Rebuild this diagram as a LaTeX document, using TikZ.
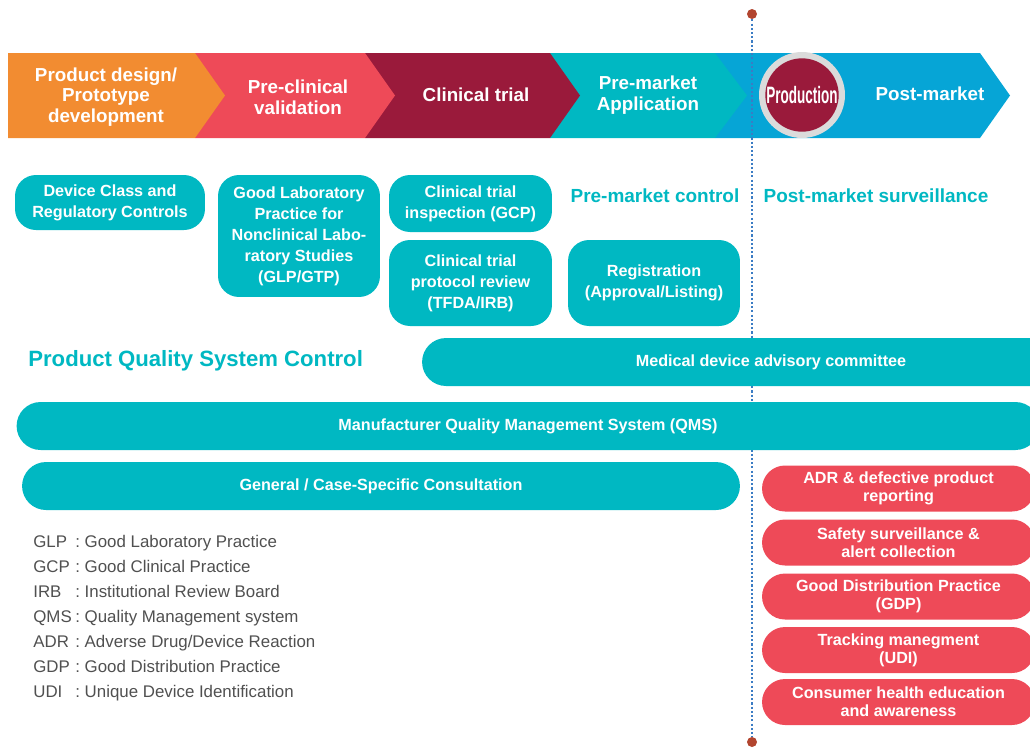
\documentclass[tikz,border=0pt]{standalone}
\usepackage{fontspec}
\setmainfont{Liberation Sans}
\usepackage{graphicx}
\definecolor{orng}{HTML}{F28C31}
\definecolor{pinkred}{HTML}{EE4A58}
\definecolor{wine}{HTML}{9A1A3B}
\definecolor{tealc}{HTML}{00B8C2}
\definecolor{sky}{HTML}{06A5D6}
\definecolor{dotblue}{HTML}{3B7CC4}
\definecolor{dotred}{HTML}{B2452F}
\definecolor{note}{HTML}{505050}
\tikzset{
  stage/.style={text=white, align=center, inner sep=0pt,
    font=\bfseries\fontsize{10.7}{11.7}\selectfont},
  head/.style={text=tealc, inner sep=0pt,
    font=\bfseries\fontsize{10.8}{12}\selectfont},
  tbox/.style={fill=tealc, text=white, align=center, inner sep=0pt,
    rounded corners=0.42cm, font=\bfseries\fontsize{9.2}{11.9}\selectfont},
  band/.style={tbox, rounded corners=0.48cm, minimum height=0.96cm},
  rbox/.style={fill=pinkred, text=white, align=center, inner sep=0pt,
    rounded corners=0.46cm, minimum width=5.46cm, minimum height=0.92cm,
    font=\bfseries\fontsize{9.2}{10.2}\selectfont},
  dot/.style={circle, fill=dotred, minimum size=0.2cm, inner sep=0pt},
  note/.style={text=note, inner sep=0pt, font=\fontsize{9.6}{11}\selectfont}
}
\begin{document}
\begin{tikzpicture}[x=0.02cm,y=-0.02cm]
  \clip (0,0) rectangle (1030,748);
  \fill[sky] (715,53) -- (980,53) -- (1010,95.5) -- (980,138) -- (715,138) -- cycle;
  \fill[tealc] (550,53) -- (715,53) -- (747,95.5) -- (715,138) -- (550,138) -- cycle;
  \fill[wine] (365,53) -- (550,53) -- (580,95.5) -- (550,138) -- (365,138) -- cycle;
  \fill[pinkred] (195,53) -- (365,53) -- (395,95.5) -- (365,138) -- (195,138) -- cycle;
  \fill[orng] (8,53) -- (195,53) -- (225,95.5) -- (195,138) -- (8,138) -- cycle;
  \node[stage] (s1) at (106,97) {Product design/\\Prototype\\development};
  \node[stage] (s2) at (298,97) {Pre-clinical\\validation};
  \node[stage] (s3) at (476,95) {Clinical trial};
  \node[stage] (s4) at (648,95) {Pre-market\\Application};
  \node[stage] (s6) at (930,94) {Post-market};
  \node[dot] (top) at (752,14) {};
  \node[dot] (bot) at (752,742) {};
  \draw[dotblue, line width=1.1pt, dash pattern=on 1.2pt off 1.2pt] (top) -- (bot);
  \fill[gray!28] (802,95) circle (0.86cm);
  \node[stage, circle, fill=wine, minimum size=1.44cm] (s5) at (802,95)
    {\scalebox{0.57}[1]{\fontsize{13.5}{14}\selectfont Production}};
  \node[head] (pre) at (655,196) {Pre-market control};
  \node[head] (post) at (876,196) {Post-market surveillance};
  \node[head, anchor=west, font=\bfseries\fontsize{12.6}{14}\selectfont] (pqsc) at (28,361)
    {Product Quality System Control};
  \node[tbox, minimum width=3.8cm, minimum height=1.1cm] (dc) at (110,202.5)
    {Device Class and\\Regulatory Controls};
  \node[tbox, minimum width=3.24cm, minimum height=2.44cm] (glp) at (299,236)
    {Good Laboratory\\Practice for\\Nonclinical Labo-\\ratory Studies\\(GLP/GTP)};
  \node[tbox, minimum width=3.26cm, minimum height=1.14cm] (cti) at (470.5,203.5)
    {Clinical trial\\inspection (GCP)};
  \node[tbox, minimum width=3.26cm, minimum height=1.72cm] (ctp) at (470.5,283)
    {Clinical trial\\protocol review\\(TFDA/IRB)};
  \node[tbox, minimum width=3.44cm, minimum height=1.72cm] (reg) at (654,283)
    {Registration\\(Approval/Listing)};
  \node[band, minimum width=13.96cm] (mdac) at (771,362) {Medical device advisory committee};
  \node[band, minimum width=20.46cm] (qms) at (528,426)
    {Manufacturer Quality Management System (QMS)};
  \node[band, minimum width=14.36cm] (gcc) at (381,486) {General / Case-Specific Consultation};
  \node[rbox] (r1) at (898.5,488.5) {ADR \& defective product\\reporting};
  \node[rbox] (r2) at (898.5,542.5) {Safety surveillance \&\\alert collection};
  \node[rbox] (r3) at (898.5,596.5) {Good Distribution Practice\\(GDP)};
  \node[rbox] (r4) at (898.5,650) {Tracking manegment\\(UDI)};
  \node[rbox] (r5) at (898.5,702) {Consumer health education\\and awareness};
  \foreach \ab/\txt [count=\i] in {GLP/Good Laboratory Practice, GCP/Good Clinical Practice,
      IRB/Institutional Review Board, QMS/Quality Management system,
      ADR/{Adverse Drug/Device Reaction}, GDP/Good Distribution Practice,
      UDI/Unique Device Identification}
    \node[note, anchor=base west] (n\i) at (33,{547+25*(\i-1)})
      {\makebox[0.84cm][l]{\ab}:\ \txt};
\end{tikzpicture}
\end{document}
